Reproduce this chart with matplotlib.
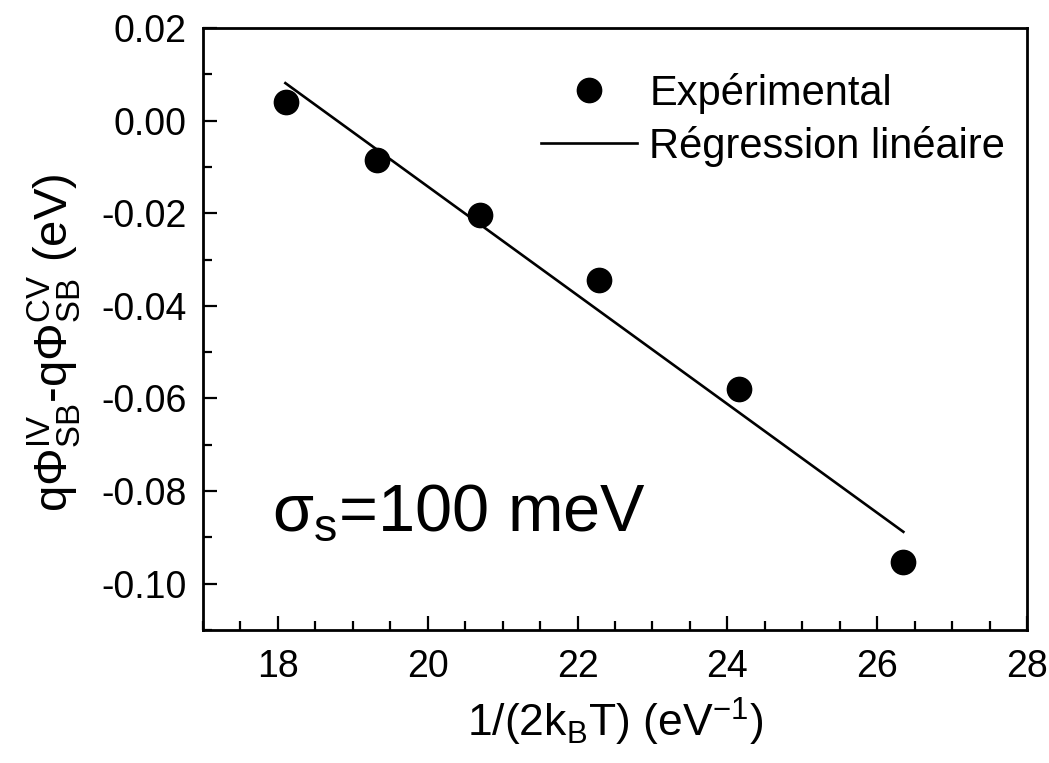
import matplotlib
matplotlib.use("Agg")
import matplotlib.pyplot as plt
from matplotlib.ticker import MultipleLocator, FuncFormatter

plt.rcParams['font.family'] = ['Liberation Sans', 'DejaVu Sans']
plt.rcParams['mathtext.fontset'] = 'custom'
plt.rcParams['mathtext.rm'] = 'Liberation Sans'
plt.rcParams['mathtext.it'] = 'Liberation Sans:italic'
plt.rcParams['mathtext.bf'] = 'Liberation Sans:bold'

# Data
x_exp = [18.11, 19.32, 20.70, 22.29, 24.15, 26.35]
y_exp = [0.0041, -0.0085, -0.0204, -0.0344, -0.0580, -0.0954]
x_fit = [18.10, 26.35]
y_fit = [0.0081, -0.0888]

fig = plt.figure(figsize=(10.49, 7.63), dpi=100)
ax = fig.add_axes([0.1935, 0.1743, 0.7855, 0.789])

ax.plot(x_exp, y_exp, 'o', color='black', markersize=17.5, label='Expérimental', zorder=3)
ax.plot(x_fit, y_fit, '-', color='black', linewidth=1.9, label='Régression linéaire', zorder=2)

ax.set_xlim(17, 28)
ax.set_ylim(-0.11, 0.02)
ax.xaxis.set_major_locator(MultipleLocator(2))
ax.xaxis.set_minor_locator(MultipleLocator(0.5))
ax.yaxis.set_major_locator(MultipleLocator(0.02))
ax.yaxis.set_minor_locator(MultipleLocator(0.01))


def yfmt(v, pos):
    s = '%.2f' % v
    if s == '-0.00':
        s = '0.00'
    return s


ax.yaxis.set_major_formatter(FuncFormatter(yfmt))

for s in ax.spines.values():
    s.set_linewidth(2.0)
ax.tick_params(which='both', direction='in', top=False, right=False, width=1.6, labelsize=27)
ax.tick_params(axis='x', which='major', pad=13.5)
ax.tick_params(axis='y', which='major', pad=12)
ax.tick_params(which='major', length=10)
ax.tick_params(which='minor', length=6.5)

ax.set_xlabel(r'1/(2k$_\mathregular{B}$T) (eV$^\mathregular{-1}$)', fontsize=32, labelpad=8)
ax.set_ylabel(r'q$\mathregular{\Phi^{IV}_{SB}}$-q$\mathregular{\Phi^{CV}_{SB}}$ (eV)', fontsize=34)
ax.yaxis.set_label_coords(-0.1456, 0.478)

ax.text(0.084, 0.166, r'σ$_\mathregular{s}$=100 meV', transform=ax.transAxes,
        fontsize=48, va='baseline', ha='left')

ax.legend(loc='upper right', bbox_to_anchor=(0.994, 0.953), frameon=False, fontsize=30,
          handlelength=2.3, handletextpad=0.3, labelspacing=0.28, borderaxespad=0.0)

fig.savefig('out.png', dpi=100)
